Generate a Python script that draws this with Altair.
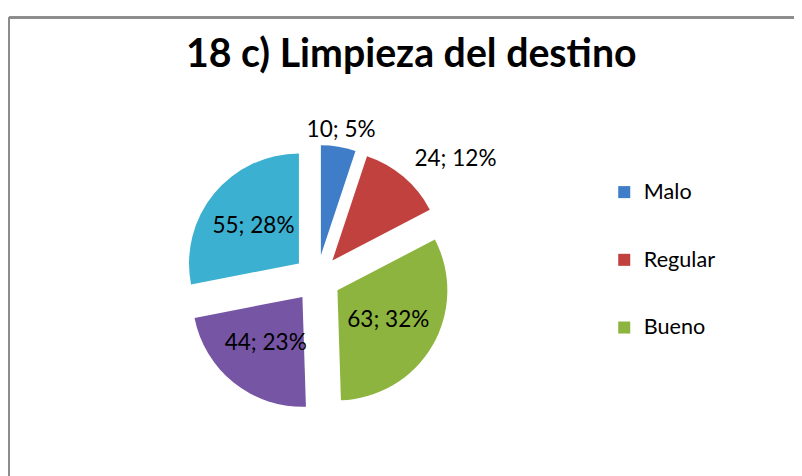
import altair as alt
import pandas as pd

# ---- data ----
categorias = ["Malo", "Regular", "Bueno", "Muy bueno", "Excelente"]
valores = [10, 24, 63, 44, 55]
etiquetas = ["10; 5%", "24; 12%", "63; 32%", "44; 23%", "55; 28%"]
orden = [0, 1, 2, 3, 4]
leyenda = ["Malo", "Regular", "Bueno"]
colores = ["#3F7DC8", "#C0413E", "#8DB43E", "#7655A5", "#3BB0D0"]

df = pd.DataFrame({"cat": categorias, "valor": valores, "etiqueta": etiquetas, "orden": orden})

# ---- style constants ----
R = 112        # pie radius (px)
EXPLODE = 24   # explosion distance (px)
FONT = "Lato"
CX, CY = 314, 266   # pie centre inside the plot area (px)

W, H = 800, 480
xscale = alt.Scale(domain=[-CX, W - CX], nice=False, zero=False)
yscale = alt.Scale(domain=[-(H - CY), CY], nice=False, zero=False)

base = alt.Chart(df).transform_joinaggregate(
    total="sum(valor)"
).transform_window(
    cum="sum(valor)", sort=[alt.SortField("orden")], frame=[None, 0]
).transform_calculate(
    t0="2*PI*(datum.cum - datum.valor)/datum.total",
    t1="2*PI*datum.cum/datum.total",
).transform_calculate(
    mid="(datum.t0 + datum.t1)/2",
    frac="datum.valor/datum.total",
).transform_calculate(
    cx=f"{EXPLODE}*sin(datum.mid)",
    cy=f"{EXPLODE}*cos(datum.mid)",
    fuera="datum.frac < 0.15",
).transform_calculate(
    ld=f"datum.fuera ? {R + EXPLODE + 17} : 84",
    lado="datum.fuera && sin(datum.mid) > 0.5 ? 'left' : 'center'",
).transform_calculate(
    lx="datum.ld*sin(datum.mid)",
    ly="datum.ld*cos(datum.mid)",
)

arcs = base.mark_arc(radius=R).encode(
    x=alt.X("cx:Q", scale=xscale, axis=None),
    y=alt.Y("cy:Q", scale=yscale, axis=None),
    theta=alt.Theta("t0:Q", scale=None, stack=None),
    theta2="t1:Q",
    color=alt.Color(
        "cat:N",
        scale=alt.Scale(domain=categorias, range=colores),
        legend=alt.Legend(
            values=leyenda,
            title=None,
            orient="none",
            legendX=616,
            legendY=167,
            symbolType="square",
            symbolSize=150,
            symbolStrokeWidth=0,
            labelFont=FONT,
            labelFontSize=22,
            labelColor="#000000",
            labelOffset=9,
            rowPadding=47,
        ),
    ),
)

text_center = base.transform_filter("datum.lado == 'center'").mark_text(
    font=FONT, fontSize=23, color="#000000", align="center", baseline="middle"
).encode(
    x=alt.X("lx:Q", scale=xscale, axis=None),
    y=alt.Y("ly:Q", scale=yscale, axis=None),
    text="etiqueta:N",
)

text_left = base.transform_filter("datum.lado == 'left'").mark_text(
    font=FONT, fontSize=23, color="#000000", align="left", baseline="middle", dy=-5
).encode(
    x=alt.X("lx:Q", scale=xscale, axis=None),
    y=alt.Y("ly:Q", scale=yscale, axis=None),
    text="etiqueta:N",
)

frame_top = alt.Chart(df).mark_rule(color="#8c8c8c", strokeWidth=2).encode(
    x=alt.value(0), x2=alt.value(W), y=alt.value(0)
)
frame_left = alt.Chart(df).mark_rule(color="#8c8c8c", strokeWidth=2).encode(
    x=alt.value(0), y=alt.value(0), y2=alt.value(H)
)

chart = alt.layer(frame_top, frame_left, arcs, text_center, text_left).properties(
    width=W,
    height=H,
    padding={"left": 1, "top": 5, "right": 0, "bottom": 0},
    autosize=alt.AutoSizeParams(type="none"),
    title=alt.TitleParams(
        "18 c) Limpieza del destino",
        font=FONT,
        fontSize=40,
        fontWeight="bold",
        color="#000000",
        anchor="middle",
        baseline="alphabetic",
        offset=-92,
        dx=10,
    ),
).configure_view(
    strokeWidth=0
).configure(background="#ffffff")

chart.save("out.html", embed_options={"renderer": "svg", "actions": False})
